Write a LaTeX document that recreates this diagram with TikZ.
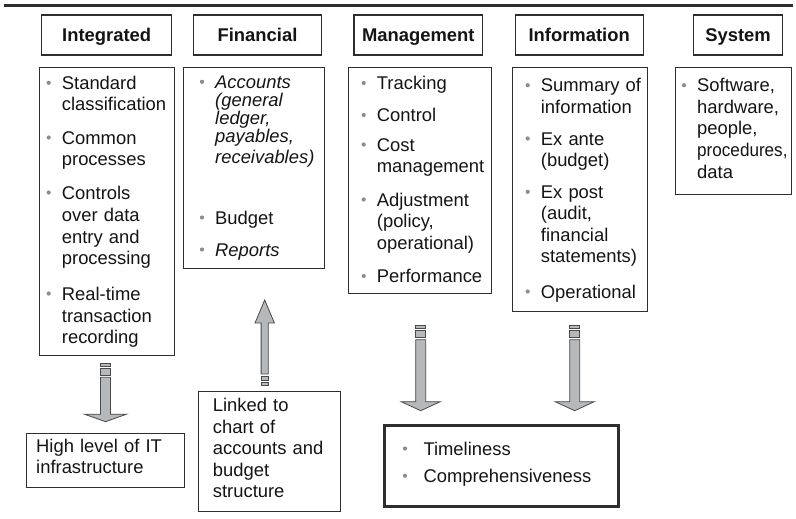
\documentclass[tikz,border=0pt]{standalone}
\usepackage{fontspec}
\setmainfont{Liberation Sans}
\usetikzlibrary{calc}
\definecolor{ln}{HTML}{2E2E2E}
\definecolor{bulc}{HTML}{8C8C8C}
\definecolor{arf}{HTML}{B5B9BC}
\definecolor{ard}{HTML}{4A4A4A}
\definecolor{txt}{HTML}{141414}
\tikzset{
  hdr/.style={draw=ln, line width=1.1pt, inner sep=0pt, text height=13.4pt, text depth=0pt,
    font=\fontsize{18.4}{21.5}\selectfont\bfseries, text=txt},
  cbox/.style={draw=ln, line width=0.9pt, inner sep=0pt, anchor=north west},
  item/.style={anchor=base west, inner sep=0pt, text width=200pt, align=left,
    font=\fontsize{18.4}{21.5}\selectfont, text=txt},
  blk/.style={draw=ard, fill=arf, line width=0.8pt, line join=miter},
}
\def\bulx{-13}
\newcommand\bitem[4]{%
  \node[item] (#1) at (#2,#3) {#4};
  \fill[bulc] ($(#1.base west)+(\bulx,-6.5)$) circle[radius=2.1pt];}
% down block arrow: x, ytop, ytip, half shaft, half head, head length
\newcommand\downarr[6]{%
  \pgfmathsetmacro\aXl{#1-#4}\pgfmathsetmacro\aXr{#1+#4}%
  \pgfmathsetmacro\aHl{#1-#5}\pgfmathsetmacro\aHr{#1+#5}%
  \pgfmathsetmacro\aYa{#2+3}\pgfmathsetmacro\aYb{#2+5}%
  \pgfmathsetmacro\aYc{#2+12}\pgfmathsetmacro\aYd{#2+14}%
  \pgfmathsetmacro\aYe{#3-#6}%
  \draw[blk] (\aXl,#2) rectangle (\aXr,\aYa);
  \draw[blk] (\aXl,\aYb) rectangle (\aXr,\aYc);
  \draw[blk] (\aXl,\aYd) -- (\aXl,\aYe) -- (\aHl,\aYe) -- (#1,#3) -- (\aHr,\aYe) -- (\aXr,\aYe) -- (\aXr,\aYd) -- cycle;}
% up block arrow: x, ytip, ybottom, half shaft, half head, head length
\newcommand\uparr[6]{%
  \pgfmathsetmacro\aXl{#1-#4}\pgfmathsetmacro\aXr{#1+#4}%
  \pgfmathsetmacro\aHl{#1-#5}\pgfmathsetmacro\aHr{#1+#5}%
  \pgfmathsetmacro\aYa{#3-3}\pgfmathsetmacro\aYb{#3-5}%
  \pgfmathsetmacro\aYc{#3-9}\pgfmathsetmacro\aYd{#3-11}%
  \pgfmathsetmacro\aYe{#2+#6}%
  \draw[blk] (\aXl,#3) rectangle (\aXr,\aYa);
  \draw[blk] (\aXl,\aYb) rectangle (\aXr,\aYc);
  \draw[blk] (\aXl,\aYd) -- (\aXl,\aYe) -- (\aHl,\aYe) -- (#1,#2) -- (\aHr,\aYe) -- (\aXr,\aYe) -- (\aXr,\aYd) -- cycle;}
\begin{document}
\begin{tikzpicture}[x=1pt,y=-1pt]
\useasboundingbox (0,0) rectangle (796,519);
% top rule
\coordinate (rl) at (3.5,5.5);
\coordinate (rr) at (793,5.5);
\draw[ln, line width=3pt] (rl) -- (rr);
% headers
\node[hdr, minimum width=130, minimum height=40] (h1) at (106.7,35) {Integrated};
\node[hdr, minimum width=128.4, minimum height=40] (h2) at (257.5,35) {Financial};
\node[hdr, minimum width=128.7, minimum height=40] (h3) at (418.3,35) {Management};
\node[hdr, minimum width=128.3, minimum height=40] (h4) at (579.2,35) {Information};
\node[hdr, minimum width=89.4, minimum height=40] (h5) at (738,35) {System};
% content boxes
\node[cbox, minimum width=134.7, minimum height=288.3] (c1) at (39.3,66.7) {};
\node[cbox, minimum width=140.7, minimum height=201.6] (c2) at (183.3,66.7) {};
\node[cbox, minimum width=142.4, minimum height=225.4] (c3) at (348.3,67.3) {};
\node[cbox, minimum width=134.4, minimum height=243.7] (c4) at (512.3,67) {};
\node[cbox, minimum width=116, minimum height=127] (c5) at (675,67) {};
% Integrated items
\tikzset{every node/.append style={}}
\bitem{i11}{61.7}{89.3}{\fontsize{18.4}{22}\selectfont Standard\\classification}
\bitem{i12}{61.7}{144}{\fontsize{18.4}{22}\selectfont Common\\processes}
\bitem{i13}{61.7}{199}{\fontsize{18.4}{22}\selectfont Controls\\over data\\entry and\\processing}
\bitem{i14}{61.7}{300}{\fontsize{18.4}{22}\selectfont Real-time\\transaction\\recording}
% Financial items
\bitem{i21}{215}{88.3}{\itshape\fontsize{18.4}{18}\selectfont Accounts\\(general\\ledger,\\payables,\\receivables)}
\bitem{i22}{215}{224}{Budget}
\bitem{i23}{215}{256}{\itshape Reports}
% Management items
\bitem{i31}{376.7}{89.5}{Tracking}
\bitem{i32}{376.7}{121.5}{Control}
\bitem{i33}{376.7}{151}{Cost\\management}
\bitem{i34}{376.7}{206}{Adjustment\\(policy,\\operational)}
\bitem{i35}{376.7}{282.5}{Performance}
% Information items
\bitem{i41}{540.7}{91.7}{Summary of\\information}
\bitem{i42}{540.7}{145}{Ex ante\\(budget)}
\bitem{i43}{540.7}{198.3}{Ex post\\(audit,\\financial\\statements)}
\bitem{i44}{540.7}{298}{Operational}
% System items
\bitem{i51}{697}{91.7}{\fontsize{18.4}{21.6}\selectfont Software,\\hardware,\\people,\\\scalebox{0.93}[1]{procedures,}\\data}
% arrows
\downarr{105.5}{363.3}{421.7}{5}{21}{7.5}
\uparr{264.7}{300}{385}{3.6}{9.7}{23}
\downarr{420.7}{325.7}{410.7}{5}{19.5}{9}
\downarr{574.7}{325.7}{410.7}{5}{19.5}{9}
% bottom boxes
\node[cbox, minimum width=158, minimum height=54.3] (b1) at (26,432.7) {};
\node[item] (t1) at (36,452) {High level of IT\\infrastructure};
\node[cbox, minimum width=141.7, minimum height=120.3] (b2) at (198.3,390.7) {};
\node[item] (t2) at (212.7,411.7) {Linked to\\chart of\\accounts and\\budget\\structure};
\node[cbox, line width=3pt, minimum width=234, minimum height=81] (b3) at (382.7,424) {};
\def\bulx{-18.3}
\bitem{t31}{423.3}{455}{Timeliness}
\bitem{t32}{423.3}{482.3}{Comprehensiveness}
\end{tikzpicture}
\end{document}
